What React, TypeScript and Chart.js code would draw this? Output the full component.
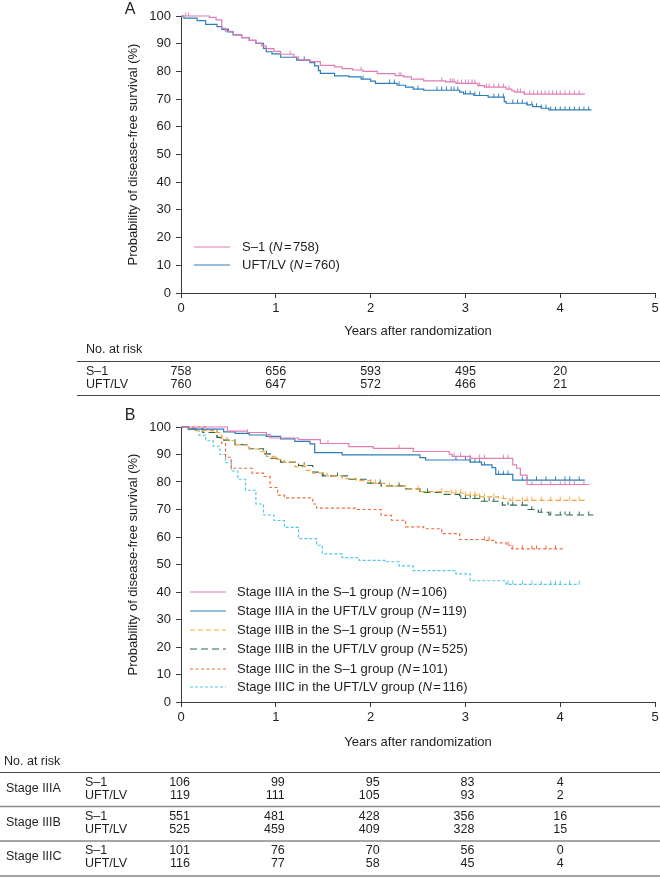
import React, { useEffect, useRef } from "react";
import { Chart, registerables } from "chart.js";

Chart.register(...registerables);

const FONT = '"Liberation Sans", Arial, Helvetica, sans-serif';
const INK = "#1e1e1e";
const AXIS = "#3a3a3a";

const X_TITLE = "Years after randomization";
const Y_TITLE = "Probability of disease-free survival (%)";
const RISK_TIMES = [0, 1, 2, 3, 4];

// ---------- Panel A data ----------
const A_S1_T = [0, 0.3, 0.37, 0.43, 0.47, 0.55, 0.64, 0.72, 0.79, 0.85, 0.9, 0.98, 1.05, 1.19, 1.24, 1.36, 1.47, 1.62, 1.7, 1.81, 1.92, 2.07, 2.26, 2.35, 2.43, 2.56, 2.79, 2.9, 3.13, 3.2, 3.43, 3.49, 3.52, 3.62, 4.26];
const A_S1_S = [100, 99.5, 98.6, 95.5, 94.5, 93.2, 92.2, 91.2, 90.2, 89.2, 88.2, 87.2, 86.2, 85.2, 84.2, 83.5, 82.2, 81.6, 81, 80.5, 80, 79.2, 78.5, 78, 77.2, 76.6, 76.2, 75.7, 74.9, 74.3, 73.6, 73, 72.5, 71.8, 71.8];
const A_S1_CENS = [0.05, 0.08, 1.15, 1.9, 2.3, 2.32, 2.75, 2.84, 2.86, 2.88, 2.92, 2.96, 3.0, 3.03, 3.07, 3.1, 3.15, 3.22, 3.25, 3.3, 3.35, 3.4, 3.46, 3.55, 3.58, 3.62, 3.68, 3.72, 3.76, 3.8, 3.84, 3.88, 3.92, 3.96, 4.0, 4.05, 4.1, 4.15, 4.2];

const A_UF_T = [0, 0.03, 0.17, 0.26, 0.38, 0.43, 0.49, 0.55, 0.64, 0.72, 0.79, 0.87, 0.9, 0.96, 1.05, 1.22, 1.36, 1.41, 1.45, 1.47, 1.62, 1.77, 1.9, 2.0, 2.05, 2.28, 2.37, 2.45, 2.56, 2.94, 2.98, 3.09, 3.24, 3.41, 3.43, 3.65, 3.71, 3.8, 3.88, 4.33];
const A_UF_S = [100, 99.2, 98.3, 97, 96.2, 95.2, 94.3, 93.2, 92.2, 91.2, 90.1, 88.3, 87.1, 86.3, 85.1, 84.1, 83.2, 82, 80.3, 79.3, 78.4, 78, 77.2, 76.5, 75.7, 75, 74.3, 73.6, 73.2, 72.5, 71.9, 71.3, 70.7, 69.1, 68.5, 67.9, 67.3, 66.7, 66.1, 66.1];
const A_UF_CENS = [0.5, 1.3, 1.92, 2.2, 2.25, 2.3, 2.5, 2.7, 2.75, 2.8, 2.85, 2.88, 2.92, 3.0, 3.05, 3.1, 3.15, 3.3, 3.35, 3.4, 3.5, 3.55, 3.6, 3.65, 3.7, 3.75, 3.8, 3.85, 3.9, 3.95, 4.0, 4.05, 4.1, 4.15, 4.2, 4.25, 4.3];

const A_GROUPS = ["S–1", "UFT/LV"];
const A_N = [758, 760];
const A_RISK_S1 = [758, 656, 593, 495, 20];
const A_RISK_UF = [760, 647, 572, 466, 21];

// ---------- Panel B data ----------
const B_IIIA_S1_T = [0, 0.49, 0.7, 0.9, 0.94, 1.24, 1.47, 1.77, 2.03, 2.45, 2.83, 2.86, 3.05, 3.5, 3.54, 3.58, 3.65, 4.31];
const B_IIIA_S1_S = [100, 98.5, 98, 97.2, 96, 95.4, 94, 92.9, 92.2, 91.1, 90.1, 89.3, 88.6, 86.2, 85, 82.5, 79.1, 79.1];
const B_IIIA_S1_CENS = [0.7, 1.55, 2.3, 2.88, 2.95, 3.05, 3.15, 3.2, 3.4, 3.45, 3.7, 3.8, 3.9, 4.0, 4.05, 4.1, 4.15, 4.25];

const B_IIIA_UF_T = [0, 0.08, 0.45, 0.57, 0.72, 0.9, 1.05, 1.2, 1.36, 1.41, 1.7, 2.52, 2.58, 3.05, 3.17, 3.28, 3.32, 3.5, 4.26];
const B_IIIA_UF_S = [100, 99.2, 98.2, 97.7, 97.1, 96.6, 95.7, 94.8, 93.9, 90.7, 89.9, 88.9, 88, 87.2, 86.2, 85.2, 82.8, 80.7, 80.7];
const B_IIIA_UF_CENS = [2.9, 3.0, 3.05, 3.1, 3.15, 3.2, 3.35, 3.4, 3.45, 3.6, 3.65, 3.75, 3.85, 3.95, 4.05, 4.1, 4.2];

const B_IIIB_S1_T = [0, 0.06, 0.15, 0.34, 0.43, 0.49, 0.57, 0.72, 0.83, 0.9, 0.98, 1.09, 1.2, 1.32, 1.39, 1.54, 1.7, 1.85, 2.0, 2.15, 2.37, 2.52, 2.83, 2.98, 3.13, 3.35, 3.47, 4.26];
const B_IIIB_S1_S = [100, 99.2, 98.7, 98, 96, 95, 93.5, 92, 91, 89.3, 88.2, 87.2, 85.6, 84.2, 83.2, 82.2, 81.2, 80.5, 79.5, 78.5, 77.5, 76.5, 76, 75.2, 74.6, 74, 73.3, 73.3];
const B_IIIB_S1_CENS = [1.0, 1.3, 2.05, 2.2, 2.5, 2.75, 2.85, 2.9, 2.95, 3.0, 3.05, 3.1, 3.15, 3.2, 3.3, 3.4, 3.5, 3.6, 3.65, 3.7, 3.8, 3.9, 4.0, 4.1, 4.2];

const B_IIIB_UF_T = [0, 0.08, 0.23, 0.38, 0.45, 0.57, 0.72, 0.87, 0.94, 1.05, 1.24, 1.39, 1.49, 1.77, 1.96, 2.11, 2.37, 2.52, 2.75, 2.94, 3.17, 3.39, 3.65, 3.77, 3.88, 4.35];
const B_IIIB_UF_S = [100, 99.3, 98, 96.2, 95.2, 93.6, 92.1, 90.2, 88.6, 87.2, 86, 83.6, 82.2, 81, 79.6, 78.6, 77.5, 76.2, 75.5, 74, 73, 71.6, 70, 69, 68, 68];
const B_IIIB_UF_CENS = [0.9, 1.3, 1.5, 1.65, 2.0, 2.1, 2.3, 2.6, 2.95, 3.0, 3.05, 3.1, 3.15, 3.2, 3.25, 3.3, 3.45, 3.5, 3.6, 3.7, 3.8, 3.9, 4.0, 4.05, 4.1, 4.2, 4.3];

const B_IIIC_S1_T = [0, 0.26, 0.38, 0.43, 0.47, 0.53, 0.75, 0.87, 0.94, 1.02, 1.09, 1.39, 1.43, 1.85, 2.11, 2.22, 2.37, 2.56, 2.75, 2.94, 3.2, 3.32, 3.43, 3.49, 4.03];
const B_IIIC_S1_S = [100, 99, 96, 94, 89, 85, 83.2, 82, 78, 75.2, 74.2, 72, 70.5, 70, 67.9, 66.1, 63.7, 63, 61.2, 59.1, 58.8, 57.9, 57, 55.7, 55.7];
const B_IIIC_S1_CENS = [3.2, 3.25, 3.45, 3.5, 3.6, 3.7, 3.75, 3.85, 3.95];

const B_IIIC_UF_T = [0, 0.08, 0.19, 0.26, 0.34, 0.41, 0.47, 0.53, 0.6, 0.68, 0.79, 0.87, 0.98, 1.09, 1.24, 1.43, 1.49, 1.7, 1.88, 2.15, 2.3, 2.45, 2.9, 3.05, 3.43, 4.2];
const B_IIIC_UF_S = [100, 99, 97, 95, 93, 90, 87, 84, 81, 77, 72, 68, 66, 63.5, 59.4, 57, 53.9, 52.5, 51.5, 51, 49.5, 47.8, 46.6, 44.1, 42.8, 42.8];
const B_IIIC_UF_CENS = [3.45, 3.5, 3.6, 3.7, 3.8, 3.9, 3.95, 4.0, 4.1, 4.2];

const B_STAGES = ["Stage IIIA", "Stage IIIB", "Stage IIIC"];
const B_ARMS = ["S–1", "UFT/LV"];
const B_N = [106, 119, 551, 525, 101, 116];
const B_RISK_IIIA_S1 = [106, 99, 95, 83, 4];
const B_RISK_IIIA_UF = [119, 111, 105, 93, 2];
const B_RISK_IIIB_S1 = [551, 481, 428, 356, 16];
const B_RISK_IIIB_UF = [525, 459, 409, 328, 15];
const B_RISK_IIIC_S1 = [101, 76, 70, 56, 0];
const B_RISK_IIIC_UF = [116, 77, 58, 45, 4];

// ---------- styles ----------
const C_PINK = "#e07db5";
const C_BLUE = "#2e7cb8";
const C_ORANGE = "#f2a53e";
const C_GREEN = "#2f6a4e";
const C_RED = "#ec6a42";
const C_CYAN = "#55c6e6";

function survAt(T: number[], S: number[], t: number) {
  let v = S[0];
  for (let i = 0; i < T.length; i++) {
    if (T[i] <= t) v = S[i];
    else break;
  }
  return v;
}

// censor mark: short vertical tick rising above the curve
function censorMark(color: string) {
  const c = document.createElement("canvas");
  c.width = 3;
  c.height = 8;
  const g = c.getContext("2d") as CanvasRenderingContext2D;
  g.strokeStyle = color;
  g.lineWidth = 1;
  g.beginPath();
  g.moveTo(1.5, 0.5);
  g.lineTo(1.5, 4);
  g.stroke();
  return c;
}

function km(T: number[], S: number[], cens: number[], color: string, dash: number[]) {
  return [
    {
      data: T.map((t, i) => ({ x: t, y: S[i] })),
      borderColor: color,
      borderWidth: 1.2,
      borderDash: dash,
      stepped: "before",
      pointRadius: 0,
      fill: false,
      clip: false,
    },
    {
      data: cens.map((t) => ({ x: t, y: survAt(T, S, t) })),
      showLine: false,
      pointStyle: censorMark(color),
      pointRadius: 3,
      borderColor: color,
      backgroundColor: color,
      clip: false,
    },
  ];
}

function hline(ctx: CanvasRenderingContext2D, x1: number, x2: number, y: number, color: string, w: number) {
  ctx.save();
  ctx.strokeStyle = color;
  ctx.lineWidth = w;
  ctx.setLineDash([]);
  ctx.beginPath();
  ctx.moveTo(x1, y);
  ctx.lineTo(x2, y);
  ctx.stroke();
  ctx.restore();
}

function legendText(ctx: CanvasRenderingContext2D, x: number, y: number, pre: string, n: number) {
  ctx.textAlign = "left";
  ctx.textBaseline = "middle";
  ctx.fillStyle = INK;
  let cx = x;
  ctx.font = `13px ${FONT}`;
  const p = pre + " (";
  ctx.fillText(p, cx, y);
  cx += ctx.measureText(p).width;
  ctx.font = `italic 13px ${FONT}`;
  ctx.fillText("N", cx, y);
  cx += ctx.measureText("N").width + 1.5;
  ctx.font = `13px ${FONT}`;
  ctx.fillText("=", cx, y);
  cx += ctx.measureText("=").width + 1.5;
  ctx.fillText(`${n})`, cx, y);
}

type LegendItem = { label: string; n: number; color: string; dash: number[] };

type Spec = {
  letter: string;
  letterY: number;
  xTitleGap: number;
  legend: LegendItem[];
  legendX1: number;
  legendX2: number;
  legendTextX: number;
  legendY: number[];
  table: (ctx: CanvasRenderingContext2D, xs: any) => void;
};

function panelPlugin(spec: Spec) {
  return {
    id: "panel" + spec.letter,
    afterDraw(chart: any) {
      const { ctx, chartArea: ca } = chart;
      const xs = chart.scales.x;
      ctx.save();
      ctx.fillStyle = INK;
      ctx.textBaseline = "middle";
      ctx.textAlign = "center";
      ctx.font = `16px ${FONT}`;
      ctx.fillText(spec.letter, 130, spec.letterY);

      ctx.font = `13px ${FONT}`;
      ctx.save();
      ctx.translate(133, (ca.top + ca.bottom) / 2);
      ctx.rotate(-Math.PI / 2);
      ctx.fillText(Y_TITLE, 0, 0);
      ctx.restore();

      ctx.fillText(X_TITLE, (ca.left + ca.right) / 2, ca.bottom + spec.xTitleGap);

      spec.legend.forEach((it, i) => {
        const y = spec.legendY[i];
        ctx.save();
        ctx.strokeStyle = it.color;
        ctx.lineWidth = 1.2;
        ctx.setLineDash(it.dash);
        ctx.beginPath();
        ctx.moveTo(spec.legendX1, y);
        ctx.lineTo(spec.legendX2, y);
        ctx.stroke();
        ctx.restore();
        legendText(ctx, spec.legendTextX, y, it.label, it.n);
      });

      spec.table(ctx, xs);
      ctx.restore();
    },
  };
}

function baseOptions(padTop: number, xHeight: number) {
  const tickFont = { family: FONT, size: 13 };
  return {
    responsive: false,
    animation: false,
    events: [],
    layout: { padding: { top: padTop, right: 1, left: 0, bottom: 0 } },
    plugins: { legend: { display: false }, tooltip: { enabled: false }, title: { display: false } },
    scales: {
      x: {
        type: "linear",
        min: 0,
        max: 5,
        afterFit: (s: any) => {
          s.height = xHeight;
          s.paddingLeft = 0;
          s.paddingRight = 0;
        },
        ticks: { stepSize: 1, font: tickFont, color: INK, padding: 3, maxRotation: 0, autoSkip: false },
        grid: { drawOnChartArea: false, drawTicks: true, tickLength: 5, color: AXIS, lineWidth: 1 },
        border: { display: true, color: AXIS, width: 1 },
      },
      y: {
        min: 0,
        max: 100,
        afterFit: (s: any) => {
          s.width = 181;
          s.paddingTop = 0;
          s.paddingBottom = 0;
        },
        ticks: { stepSize: 10, font: tickFont, color: INK, padding: 5 },
        grid: { drawOnChartArea: false, drawTicks: true, tickLength: 5, color: AXIS, lineWidth: 1 },
        border: { display: true, color: AXIS, width: 1 },
      },
    },
  };
}

const TABLE_FONT = `12.5px ${FONT}`;

function tableA(ctx: CanvasRenderingContext2D, xs: any) {
  ctx.fillStyle = INK;
  ctx.textBaseline = "middle";
  ctx.font = TABLE_FONT;
  ctx.textAlign = "left";
  ctx.fillText("No. at risk", 86, 350);
  hline(ctx, 77, 660, 361.5, "#444", 1);
  const rows = [A_RISK_S1, A_RISK_UF];
  const ys = [371.5, 384.5];
  rows.forEach((r, i) => {
    ctx.textAlign = "left";
    ctx.fillText(A_GROUPS[i], 86, ys[i]);
    ctx.textAlign = "center";
    r.forEach((v, j) => ctx.fillText(String(v), xs.getPixelForValue(RISK_TIMES[j]), ys[i]));
  });
  hline(ctx, 77, 660, 395.5, "#444", 1);
}

function tableB(ctx: CanvasRenderingContext2D, xs: any) {
  ctx.fillStyle = INK;
  ctx.textBaseline = "middle";
  ctx.font = TABLE_FONT;
  ctx.textAlign = "left";
  ctx.fillText("No. at risk", 4, 364);
  hline(ctx, 0, 660, 374.5, "#444", 1);
  const rows = [B_RISK_IIIA_S1, B_RISK_IIIA_UF, B_RISK_IIIB_S1, B_RISK_IIIB_UF, B_RISK_IIIC_S1, B_RISK_IIIC_UF];
  const ys = [384.5, 397.5, 418.5, 431.5, 452.5, 465.5];
  const sep = [408.5, 443, 478];
  B_STAGES.forEach((st, g) => {
    ctx.textAlign = "left";
    ctx.fillText(st, 6, (ys[g * 2] + ys[g * 2 + 1]) / 2);
    for (let k = 0; k < 2; k++) {
      const idx = g * 2 + k;
      ctx.textAlign = "left";
      ctx.fillText(B_ARMS[k], 85, ys[idx]);
      rows[idx].forEach((v, j) => {
        const px = xs.getPixelForValue(RISK_TIMES[j]);
        if (j < 4) {
          ctx.textAlign = "right";
          ctx.fillText(String(v), px + 9, ys[idx]);
        } else {
          ctx.textAlign = "center";
          ctx.fillText(String(v), px, ys[idx]);
        }
      });
    }
    if (g < 2) hline(ctx, 0, 660, sep[g], "#8a8a8a", 1.6);
    else hline(ctx, 0, 660, sep[g], "#444", 1);
  });
}

export default function App() {
  const refA = useRef<HTMLCanvasElement>(null);
  const refB = useRef<HTMLCanvasElement>(null);

  useEffect(() => {
    const HA = 398;
    const HB = 481;
    const chartA = new Chart(refA.current as HTMLCanvasElement, {
      type: "line",
      data: {
        datasets: [
          ...km(A_S1_T, A_S1_S, A_S1_CENS, C_PINK, []),
          ...km(A_UF_T, A_UF_S, A_UF_CENS, C_BLUE, []),
        ] as any,
      },
      options: baseOptions(16, HA - 293) as any,
      plugins: [
        panelPlugin({
          letter: "A",
          letterY: 10,
          xTitleGap: 38,
          legend: [
            { label: A_GROUPS[0], n: A_N[0], color: C_PINK, dash: [] },
            { label: A_GROUPS[1], n: A_N[1], color: C_BLUE, dash: [] },
          ],
          legendX1: 194,
          legendX2: 230,
          legendTextX: 242,
          legendY: [247, 265],
          table: tableA,
        }),
      ],
    });

    const dashes = [[], [], [5, 3], [7, 4], [3, 2.5], [3, 2]];
    const colors = [C_PINK, C_BLUE, C_ORANGE, C_GREEN, C_RED, C_CYAN];
    const legendB: LegendItem[] = [];
    B_STAGES.forEach((st, g) =>
      B_ARMS.forEach((arm, k) => {
        const i = g * 2 + k;
        legendB.push({ label: `${st} in the ${arm} group`, n: B_N[i], color: colors[i], dash: dashes[i] });
      })
    );

    const chartB = new Chart(refB.current as HTMLCanvasElement, {
      type: "line",
      data: {
        datasets: [
          ...km(B_IIIA_S1_T, B_IIIA_S1_S, B_IIIA_S1_CENS, C_PINK, dashes[0]),
          ...km(B_IIIA_UF_T, B_IIIA_UF_S, B_IIIA_UF_CENS, C_BLUE, dashes[1]),
          ...km(B_IIIB_S1_T, B_IIIB_S1_S, B_IIIB_S1_CENS, C_ORANGE, dashes[2]),
          ...km(B_IIIB_UF_T, B_IIIB_UF_S, B_IIIB_UF_CENS, C_GREEN, dashes[3]),
          ...km(B_IIIC_S1_T, B_IIIC_S1_S, B_IIIC_S1_CENS, C_RED, dashes[4]),
          ...km(B_IIIC_UF_T, B_IIIC_UF_S, B_IIIC_UF_CENS, C_CYAN, dashes[5]),
        ] as any,
      },
      options: baseOptions(29, HB - 304) as any,
      plugins: [
        panelPlugin({
          letter: "B",
          letterY: 18,
          xTitleGap: 40,
          legend: legendB,
          legendX1: 190,
          legendX2: 226,
          legendTextX: 237,
          legendY: [194, 213, 232, 251, 271, 289],
          table: tableB,
        }),
      ],
    });

    return () => {
      chartA.destroy();
      chartB.destroy();
    };
  }, []);

  return (
    <div style={{ position: "absolute", left: 0, top: 0, width: 660, height: 879, background: "#ffffff", overflow: "hidden" }}>
      <canvas ref={refA} width={660} height={398} style={{ position: "absolute", left: 0, top: 0, width: 660, height: 398 }} />
      <canvas ref={refB} width={660} height={481} style={{ position: "absolute", left: 0, top: 398, width: 660, height: 481 }} />
    </div>
  );
}
